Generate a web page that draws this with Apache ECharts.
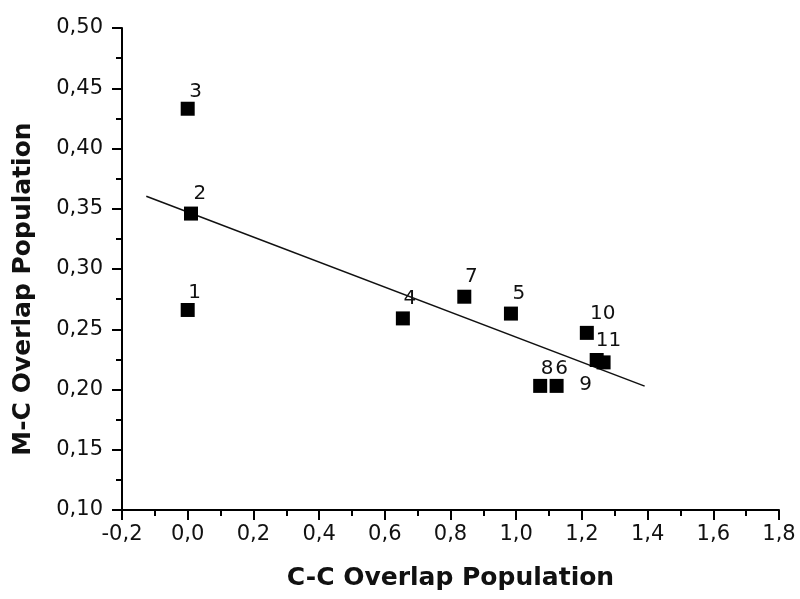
<!DOCTYPE html>
<html>
<head>
<meta charset="utf-8">
<script src="https://cdn.jsdelivr.net/npm/echarts@6/dist/echarts.min.js"></script>
<style>html,body{margin:0;padding:0;background:#fff;}#c{width:800px;height:599px;}</style>
</head>
<body>
<div id="c"></div>
<script>
// ---- data ----
const pointLabels = ['1','2','3','4','5','6','7','8','9','10','11'];
const ccOverlap   = [0.000, 0.010, 0.000, 0.655, 0.984, 1.123, 0.842, 1.073, 1.245, 1.215, 1.266];
const mcOverlap   = [0.266, 0.346, 0.433, 0.259, 0.263, 0.203, 0.277, 0.203, 0.2245, 0.247, 0.2225];
const fitX = [-0.126, 1.391];
const fitY = [0.3604, 0.2028];
const xTicks = [-0.2, 0.0, 0.2, 0.4, 0.6, 0.8, 1.0, 1.2, 1.4, 1.6, 1.8];
const yTicks = [0.10, 0.15, 0.20, 0.25, 0.30, 0.35, 0.40, 0.45, 0.50];
const xTitle = 'C-C Overlap Population';
const yTitle = 'M-C Overlap Population';

// ---- label placement (style) ----
const labelOffsets = [[7,-17],[9,-20],[8,-17],[7,-20],[8,-20],[5,-17],[7,-20],[7,-17],[-11,25],[16,-19],[5,-22]];

const font = 'DejaVu Sans';
const scatterData = ccOverlap.map((x, i) => ({
  value: [x, mcOverlap[i]],
  name: pointLabels[i],
  label: { offset: labelOffsets[i] }
}));

const chart = echarts.init(document.getElementById('c'), null, {renderer: 'canvas'});
chart.setOption({
  animation: false,
  backgroundColor: '#fff',
  grid: { left: 122, right: 21, top: 28, bottom: 89, containLabel: false },
  xAxis: {
    type: 'value',
    min: xTicks[0], max: xTicks[xTicks.length - 1], interval: 0.2,
    name: xTitle, nameLocation: 'middle', nameGap: 56,
    nameTextStyle: { fontFamily: font, fontSize: 25, fontWeight: 'bold', color: '#111' },
    axisLine: { show: true, onZero: false, lineStyle: { color: '#000', width: 2 } },
    axisTick: { show: true, inside: false, length: 10, lineStyle: { color: '#000', width: 2 } },
    minorTick: { show: true, splitNumber: 2, length: 6, lineStyle: { color: '#000', width: 2 } },
    splitLine: { show: false },
    axisLabel: { fontFamily: font, fontSize: 21, color: '#111', margin: 14,
      formatter: v => v.toFixed(1).replace('.', ',') }
  },
  yAxis: {
    type: 'value',
    min: yTicks[0], max: yTicks[yTicks.length - 1], interval: 0.05,
    name: yTitle, nameLocation: 'middle', nameGap: 86, nameRotate: 90,
    nameTextStyle: { fontFamily: font, fontSize: 25, fontWeight: 'bold', color: '#111', padding: [0, 40, 0, 0] },
    axisLine: { show: true, onZero: false, lineStyle: { color: '#000', width: 2 } },
    axisTick: { show: true, inside: false, length: 10, lineStyle: { color: '#000', width: 2 } },
    minorTick: { show: true, splitNumber: 2, length: 6, lineStyle: { color: '#000', width: 2 } },
    splitLine: { show: false },
    axisLabel: { fontFamily: font, fontSize: 21, color: '#111', margin: 19,
      formatter: v => v.toFixed(2).replace('.', ',') }
  },
  series: [
    {
      type: 'line',
      data: fitX.map((x, i) => [x, fitY[i]]),
      symbol: 'none',
      lineStyle: { color: '#111', width: 1.6 },
      z: 2
    },
    {
      type: 'scatter',
      data: scatterData,
      symbol: 'rect',
      symbolSize: 14,
      itemStyle: { color: '#000', opacity: 1 },
      label: {
        show: true, position: 'inside',
        formatter: p => p.name,
        fontFamily: font, fontSize: 20, color: '#111'
      },
      z: 3
    }
  ]
});
</script>
</body>
</html>
